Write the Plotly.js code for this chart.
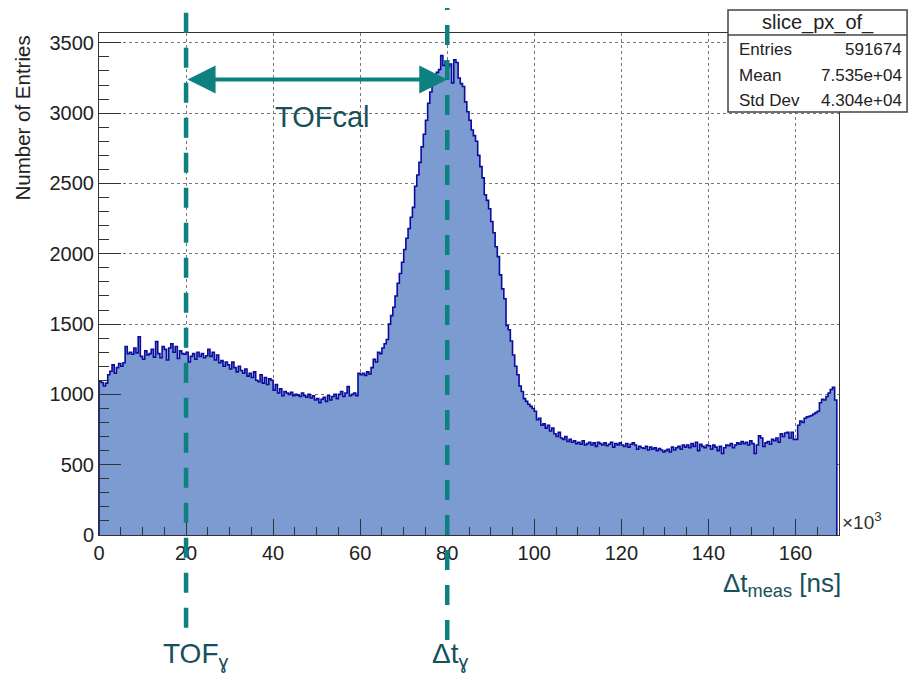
<!DOCTYPE html>
<html>
<head>
<meta charset="utf-8">
<script src="https://cdn.plot.ly/plotly-3.0.1.min.js"></script>
<style>
  html, body { margin: 0; padding: 0; background: #ffffff; }
  #chart { width: 908px; height: 682px; }
</style>
</head>
<body>
<div id="chart"></div>
<script>
// Δt_meas spectrum: bins of 0.5 (×10^3 ns) starting at 0
const binStart = 0;
const binWidth = 0.5;
const counts = [
  1095,1085,1060,1080,1140,1165,1210,1150,1190,1220,
  1200,1225,1340,1290,1300,1285,1330,1295,1410,1270,
  1250,1310,1280,1290,1320,1265,1375,1290,1260,1340,
  1320,1245,1330,1360,1300,1340,1255,1310,1290,1285,
  1300,1230,1270,1290,1250,1300,1270,1290,1260,1275,
  1320,1270,1300,1245,1280,1225,1240,1200,1230,1210,
  1180,1230,1190,1160,1200,1170,1150,1180,1130,1150,
  1120,1160,1100,1090,1140,1080,1120,1070,1110,1100,
  1030,1070,1010,1040,990,1020,1010,1000,1015,990,
  1000,995,985,1010,990,980,1000,975,990,960,
  970,940,965,980,950,990,960,985,1000,970,
  1000,1020,985,1010,1055,990,1000,1010,990,1150,
  1140,1150,1135,1160,1145,1190,1250,1230,1300,1290,
  1330,1360,1390,1500,1560,1620,1700,1790,1860,1940,
  2030,2110,2180,2260,2330,2480,2560,2650,2760,2850,
  2950,3070,3150,3200,3260,3290,3310,3410,3340,3370,
  3330,3350,3215,3380,3360,3250,3210,3190,3080,3010,
  2950,2880,2840,2800,2700,2620,2540,2420,2380,2320,
  2230,2150,2050,1980,1850,1750,1680,1490,1460,1380,
  1280,1200,1140,1060,1020,970,950,930,915,900,
  880,820,830,780,790,760,780,740,760,720,
  700,730,690,680,700,665,680,660,670,650,
  660,645,670,640,650,660,640,655,630,660,
  650,640,655,635,645,660,625,650,640,655,
  640,630,650,625,645,655,640,610,630,620,
  615,630,605,625,610,620,600,615,605,590,
  600,610,590,625,605,620,630,610,640,625,
  640,620,650,630,660,600,645,630,620,640,
  635,610,640,625,600,630,580,620,640,635,
  650,620,640,655,645,665,650,660,640,670,
  650,580,640,705,690,630,655,665,645,680,
  670,690,660,720,700,725,730,690,730,680,
  680,780,810,800,830,840,845,850,860,870,
  880,940,965,960,985,1010,1035,1050,960
];

// axis extents and tick spacing (×10^3 ns / entries)
const xRange = [0, 170];
const yRange = [0, 3570];
const xMajor = 20, xMinor = 5;
const yMajor = 500, yMinor = 100;

// marker positions and calibration arrow level
const tofGamma = 20;
const dtGamma = 80;
const tofcalLevel = 3240;

// statistics box
const statsTitle = 'slice_px_of_';
const statsLabels = ['Entries', 'Mean', 'Std Dev'];
const statsValues = ['591674', '7.535e+04', '4.304e+04'];

// step outline: left edge of every bin, then close at the last right edge
const xs = [binStart];
const ys = [0];
counts.forEach((c, i) => { xs.push(binStart + i * binWidth); ys.push(c); });
xs.push(binStart + counts.length * binWidth);
ys.push(0);

const teal = '#0d8080';
const labelColor = '#174f5a';
const font = 'Liberation Sans, Arial, Helvetica, sans-serif';

const trace = {
  type: 'scatter',
  mode: 'lines',
  x: xs,
  y: ys,
  line: { shape: 'hv', color: '#0b0b9c', width: 1.6 },
  fill: 'tozeroy',
  fillcolor: '#7b9bd1',
  hoverinfo: 'skip',
  showlegend: false
};

const axisCommon = {
  showline: true,
  linecolor: '#333333',
  linewidth: 1,
  mirror: true,
  ticks: 'inside',
  tickcolor: '#333333',
  showgrid: true,
  gridcolor: '#777777',
  griddash: 'dot',
  gridwidth: 1,
  zeroline: false,
  tickfont: { family: font, size: 20, color: '#222222' }
};

const layout = {
  width: 908,
  height: 682,
  margin: { l: 99, r: 69, t: 33, b: 147 },
  paper_bgcolor: '#ffffff',
  plot_bgcolor: '#ffffff',
  showlegend: false,
  xaxis: Object.assign({}, axisCommon, {
    range: xRange,
    tick0: 0,
    dtick: xMajor,
    ticklen: 16,
    minor: { dtick: xMinor, ticklen: 8, ticks: 'inside', tickcolor: '#333333', showgrid: false }
  }),
  yaxis: Object.assign({}, axisCommon, {
    range: yRange,
    tick0: 0,
    dtick: yMajor,
    ticklen: 22,
    minor: { dtick: yMinor, ticklen: 10, ticks: 'inside', tickcolor: '#333333', showgrid: false }
  }),
  shapes: [
    { type: 'line', layer: 'above', xref: 'x', yref: 'paper',
      x0: tofGamma, x1: tofGamma, y0: -0.185, y1: 1.066,
      line: { color: teal, width: 4.5, dash: '20px,15px' } },
    { type: 'line', layer: 'above', xref: 'x', yref: 'paper',
      x0: dtGamma, x1: dtGamma, y0: -0.209, y1: 1.05,
      line: { color: teal, width: 4.5, dash: '20px,15px' } },
    { type: 'rect', layer: 'above', xref: 'paper', yref: 'paper',
      x0: 0.85, x1: 1.092, y0: 0.8426, y1: 1.0458,
      fillcolor: '#ffffff', line: { color: '#444444', width: 1.5 } },
    { type: 'line', layer: 'above', xref: 'paper', yref: 'paper',
      x0: 0.85, x1: 1.092, y0: 0.996, y1: 0.996,
      line: { color: '#444444', width: 1.5 } }
  ],
  annotations: []
};

const ann = layout.annotations;

// double-headed calibration arrow between the two markers
ann.push({
  x: dtGamma, y: tofcalLevel, xref: 'x', yref: 'y',
  ax: tofGamma, ay: tofcalLevel, axref: 'x', ayref: 'y',
  text: '', showarrow: true,
  arrowhead: 2, startarrowhead: 2, arrowside: 'end+start',
  arrowwidth: 4, arrowsize: 1.4, startarrowsize: 1.4,
  arrowcolor: teal, standoff: 0, startstandoff: 0
});
ann.push({
  x: (tofGamma + dtGamma) / 2 + 1.3, y: 2970, xref: 'x', yref: 'y',
  text: 'TOFcal', showarrow: false,
  font: { family: font, size: 29, color: labelColor }
});
ann.push({
  x: tofGamma, y: -0.241, xref: 'x', yref: 'paper', xshift: 9,
  text: 'TOF<sub>ɣ</sub>', showarrow: false, yanchor: 'middle',
  font: { family: font, size: 28, color: labelColor }
});
ann.push({
  x: dtGamma, y: -0.241, xref: 'x', yref: 'paper', xshift: 3,
  text: 'Δt<sub>ɣ</sub>', showarrow: false, yanchor: 'middle',
  font: { family: font, size: 28, color: labelColor }
});
// axis titles
ann.push({
  x: 1.0054, y: -0.0996, xref: 'paper', yref: 'paper',
  xanchor: 'right', yanchor: 'middle',
  text: 'Δt<sub>meas</sub> [ns]', showarrow: false,
  font: { family: font, size: 26, color: labelColor }
});
ann.push({
  x: 1.0, y: 0, xref: 'paper', yref: 'paper', xshift: 1,
  xanchor: 'left', yanchor: 'bottom',
  text: '×10<sup>3</sup>', showarrow: false,
  font: { family: font, size: 19, color: '#333333' }
});
ann.push({
  x: -0.104, y: 0.998, xref: 'paper', yref: 'paper',
  xanchor: 'center', yanchor: 'top', textangle: -90,
  text: 'Number of Entries', showarrow: false,
  font: { family: font, size: 20.5, color: '#222222' }
});
// statistics box contents
ann.push({
  x: 0.971, y: 1.0219, xref: 'paper', yref: 'paper',
  xanchor: 'center', yanchor: 'middle',
  text: statsTitle, showarrow: false,
  font: { family: font, size: 20, color: '#222222' }
});
const rowY = [0.968, 0.916, 0.8665];
statsLabels.forEach((lab, i) => {
  ann.push({
    x: 0.862, y: rowY[i], xref: 'paper', yref: 'paper',
    xanchor: 'left', yanchor: 'middle',
    text: lab, showarrow: false,
    font: { family: font, size: 17, color: '#222222' }
  });
  ann.push({
    x: 1.088, y: rowY[i], xref: 'paper', yref: 'paper',
    xanchor: 'right', yanchor: 'middle',
    text: statsValues[i], showarrow: false,
    font: { family: font, size: 17, color: '#222222' }
  });
});

Plotly.newPlot('chart', [trace], layout, { displayModeBar: false, staticPlot: true });
</script>
</body>
</html>
